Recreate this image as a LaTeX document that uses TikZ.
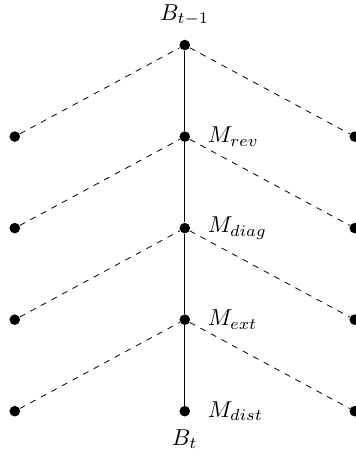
\documentclass[tikz,border=0pt]{standalone}
\usetikzlibrary{positioning}

\tikzset{
  dot/.style={circle, fill=black, inner sep=0pt, minimum size=4.6pt},
  chain/.style={line width=0.4pt},
  branch/.style={dashed, line width=0.4pt}
}

\begin{document}
\begin{tikzpicture}[scale=1.15, transform shape]

  \useasboundingbox (-80.4pt,-179.7pt) rectangle (74.3pt,19.6pt);

  % --- main chain ---
  \node[dot] (b0) at (0,0) {};
  \node[dot] (m1) at (0,-1.4) {};
  \node[dot] (m2) at (0,-2.8) {};
  \node[dot] (m3) at (0,-4.2) {};
  \node[dot] (m4) at (0,-5.6) {};

  \node[above=2.5pt of b0] (lb0) {$B_{t-1}$};
  \node[right=4pt of m1] (lm1) {$M_{rev}$};
  \node[right=4pt of m2] (lm2) {$M_{diag}$};
  \node[right=4pt of m3] (lm3) {$M_{ext}$};
  \node[right=4pt of m4] (lm4) {$M_{dist}$};
  \node[below=2pt of m4] (lb4) {$B_t$};

  % --- side dots ---
  \node[dot] (l1) at (-2.6,-1.4) {};
  \node[dot] (l2) at (-2.6,-2.8) {};
  \node[dot] (l3) at (-2.6,-4.2) {};
  \node[dot] (l4) at (-2.6,-5.6) {};
  \node[dot] (r1) at (2.6,-1.4) {};
  \node[dot] (r2) at (2.6,-2.8) {};
  \node[dot] (r3) at (2.6,-4.2) {};
  \node[dot] (r4) at (2.6,-5.6) {};

  \draw[chain] (b0) -- (m1) -- (m2) -- (m3) -- (m4);

  % dashed branches
  \draw[branch] (l1) -- (b0) -- (r1);
  \draw[branch] (l2) -- (m1) -- (r2);
  \draw[branch] (l3) -- (m2) -- (r3);
  \draw[branch] (l4) -- (m3) -- (r4);

\end{tikzpicture}
\end{document}
